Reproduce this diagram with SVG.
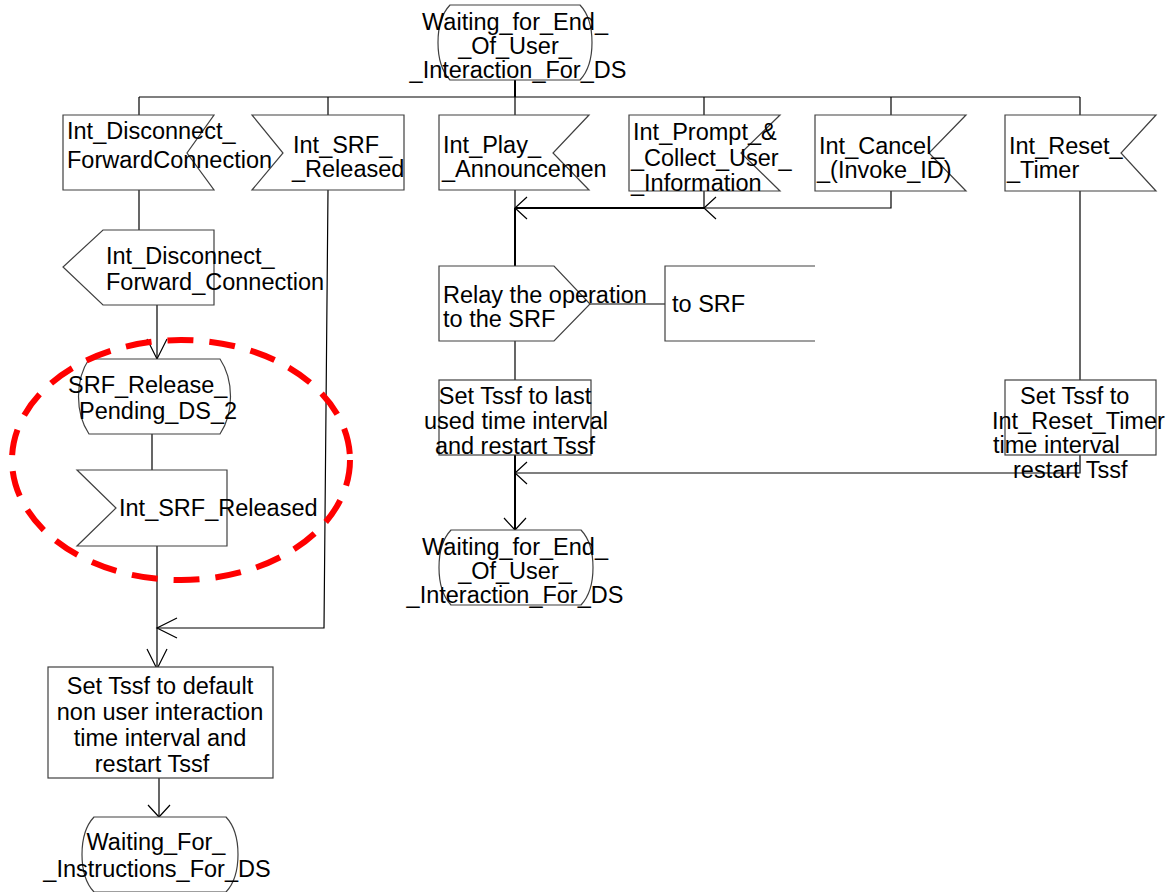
<svg xmlns="http://www.w3.org/2000/svg" width="1175" height="892" viewBox="0 0 1175 892">
<style>
  .shape { fill: #ffffff; stroke: #404040; stroke-width: 1.2; }
  .open { fill: none; stroke: #404040; stroke-width: 1.2; }
  .conn { fill: none; stroke: #000000; stroke-width: 1.2; }
  .thick { fill: none; stroke: #000000; stroke-width: 2; }
  text { font-family: "Liberation Sans", Arial, sans-serif; font-size: 23.5px; fill: #000000; }
  .mid { text-anchor: middle; }
  .ring { fill: none; stroke: #ff0000; stroke-width: 6; stroke-dasharray: 26 16; }
</style>
<defs>
  <marker id="arr" markerUnits="userSpaceOnUse" viewBox="-25 -15 30 30" markerWidth="30" markerHeight="30" refX="0" refY="0" orient="auto" overflow="visible">
    <path d="M-12,-11 L0,0 L-12,11" fill="none" stroke="#000" stroke-width="1.2"/>
  </marker>
  <marker id="arrL" markerUnits="userSpaceOnUse" viewBox="-25 -15 30 30" markerWidth="30" markerHeight="30" refX="0" refY="0" orient="auto" overflow="visible">
    <path d="M-20,-10 L0,0 L-20,10" fill="none" stroke="#000" stroke-width="1.2"/>
  </marker>
</defs>
<rect x="0" y="0" width="1175" height="892" fill="#ffffff"/>

<g id="connectors">
  <line class="thick" x1="515" y1="80" x2="515" y2="97"/>
  <line class="conn" x1="139" y1="97" x2="1080" y2="97"/>
  <line class="conn" x1="139" y1="97" x2="139" y2="115"/>
  <line class="conn" x1="328" y1="97" x2="328" y2="115"/>
  <line class="conn" x1="515" y1="97" x2="515" y2="115"/>
  <line class="conn" x1="704" y1="97" x2="704" y2="115"/>
  <line class="conn" x1="891" y1="97" x2="891" y2="115"/>
  <line class="conn" x1="1080" y1="97" x2="1080" y2="115"/>
  <line class="conn" x1="139" y1="190" x2="139" y2="230"/>
  <line class="conn" x1="157" y1="305" x2="157" y2="359" marker-end="url(#arrL)"/>
  <line class="conn" x1="152" y1="434" x2="152" y2="470"/>
  <line class="conn" x1="157" y1="546" x2="157" y2="669" marker-end="url(#arrL)"/>
  <polyline class="conn" points="328,190 324,628 157,628" marker-end="url(#arrL)"/>
  <line class="conn" x1="159" y1="778" x2="159" y2="817" marker-end="url(#arr)"/>
  <line class="conn" x1="515" y1="190" x2="515" y2="208"/>
  <polyline class="conn" points="891,191 891,208 704,208" marker-end="url(#arr)"/>
  <line class="conn" x1="704" y1="191" x2="704" y2="208"/>
  <line class="thick" x1="704" y1="208" x2="515" y2="208" marker-end="url(#arr)"/>
  <line class="thick" x1="515" y1="208" x2="515" y2="266"/>
  <line class="conn" x1="590" y1="304" x2="665" y2="304"/>
  <line class="conn" x1="515" y1="341" x2="515" y2="380"/>
  <line class="conn" x1="1080" y1="191" x2="1080" y2="380"/>
  <polyline class="conn" points="1080,455 1080,473 515,473" marker-end="url(#arr)"/>
  <line class="thick" x1="515" y1="455" x2="515" y2="530" marker-end="url(#arr)"/>
</g>

<g id="state_top">
  <path class="shape" d="M450,5 H580 C596,22 596,63 580,80 H450 C434,63 434,22 450,5 Z"/>
  <text class="mid" x="515" y="30">Waiting_for_End_</text>
  <text class="mid" x="515" y="54">_Of_User_</text>
  <text class="mid" x="518" y="78">_Interaction_For_DS</text>
</g>

<g id="in_disconnect">
  <path class="shape" d="M63,115 L214,115 L187,153 L214,190 L63,190 Z"/>
  <text x="67" y="139">Int_Disconnect_</text>
  <text x="67" y="168">ForwardConnection</text>
</g>

<g id="in_srf_released_top">
  <path class="shape" d="M252,115 L404,115 L404,190 L252,190 L283,153 Z"/>
  <text x="293" y="153">Int_SRF_</text>
  <text x="292" y="177">_Released</text>
</g>

<g id="in_play">
  <path class="shape" d="M439,115 L589,115 L553,153 L589,190 L439,190 Z"/>
  <text x="443" y="153">Int_Play_</text>
  <text x="442" y="177">_Announcemen</text>
</g>

<g id="in_prompt">
  <path class="shape" d="M629,115 L780,115 L741,153 L780,191 L629,191 Z"/>
  <text x="633" y="140">Int_Prompt_&amp;</text>
  <text x="631" y="166">_Collect_User_</text>
  <text x="631" y="191">_Information</text>
</g>

<g id="in_cancel">
  <path class="shape" d="M815,115 L966,115 L929,153 L966,191 L815,191 Z"/>
  <text x="819" y="154">Int_Cancel_</text>
  <text x="817" y="178">_(Invoke_ID)</text>
</g>

<g id="in_reset">
  <path class="shape" d="M1005,115 L1156,115 L1121,153 L1156,191 L1005,191 Z"/>
  <text x="1009" y="154">Int_Reset_</text>
  <text x="1007" y="178">_Timer</text>
</g>

<g id="out_disconnect">
  <path class="shape" d="M103,230 L214,230 L214,305 L103,305 L63,267 Z"/>
  <text x="106" y="264">Int_Disconnect_</text>
  <text x="106" y="290">Forward_Connection</text>
</g>

<g id="state_srf_release_pending">
  <path class="shape" d="M89,359 H220 C234,380 234,413 220,434 H89 C75,413 75,380 89,359 Z"/>
  <text x="68" y="393">SRF_Release_</text>
  <text x="79" y="419">Pending_DS_2</text>
</g>

<g id="in_srf_released_left">
  <path class="shape" d="M77,470 L227,470 L227,546 L77,546 L116,508 Z"/>
  <text x="119" y="516">Int_SRF_Released</text>
</g>

<g id="highlight">
  <ellipse class="ring" cx="181" cy="460" rx="169" ry="120"/>
</g>

<g id="out_relay">
  <path class="shape" d="M439,266 L554,266 L590,304 L554,341 L439,341 Z"/>
  <text x="443" y="303">Relay the operation</text>
  <text x="443" y="327">to the SRF</text>
</g>

<g id="comment_to_srf">
  <path class="open" d="M815,266 L665,266 L665,341 L815,341"/>
  <text x="672" y="312">to SRF</text>
</g>

<g id="task_last_interval">
  <rect class="shape" x="439" y="380" width="152" height="75"/>
  <text class="mid" x="515" y="404">Set Tssf to last</text>
  <text class="mid" x="516" y="429">used time interval</text>
  <text class="mid" x="515" y="454">and restart Tssf</text>
</g>

<g id="task_reset_timer">
  <rect class="shape" x="1005" y="380" width="151" height="75"/>
  <text x="1020" y="404">Set Tssf to</text>
  <text x="992" y="429">Int_Reset_Timer</text>
  <text x="993" y="453">time interval</text>
  <text x="1013" y="478">restart Tssf</text>
</g>

<g id="state_bottom_center">
  <path class="shape" d="M451,530 H581 C597,547 597,588 581,605 H451 C435,588 435,547 451,530 Z"/>
  <text class="mid" x="515" y="555">Waiting_for_End_</text>
  <text class="mid" x="515" y="579">_Of_User_</text>
  <text class="mid" x="515" y="603">_Interaction_For_DS</text>
</g>

<g id="task_default">
  <rect class="shape" x="48" y="667" width="225" height="111"/>
  <text class="mid" x="160" y="694">Set Tssf to default</text>
  <text class="mid" x="160" y="720">non user interaction</text>
  <text class="mid" x="160" y="746">time interval and</text>
  <text class="mid" x="152" y="772">restart Tssf</text>
</g>

<g id="state_bottom_left">
  <path class="shape" d="M94,817 H226 C242,834 242,875 226,892 H94 C78,875 78,834 94,817 Z"/>
  <text class="mid" x="156" y="850">Waiting_For_</text>
  <text class="mid" x="157" y="877">_Instructions_For_DS</text>
</g>
</svg>
